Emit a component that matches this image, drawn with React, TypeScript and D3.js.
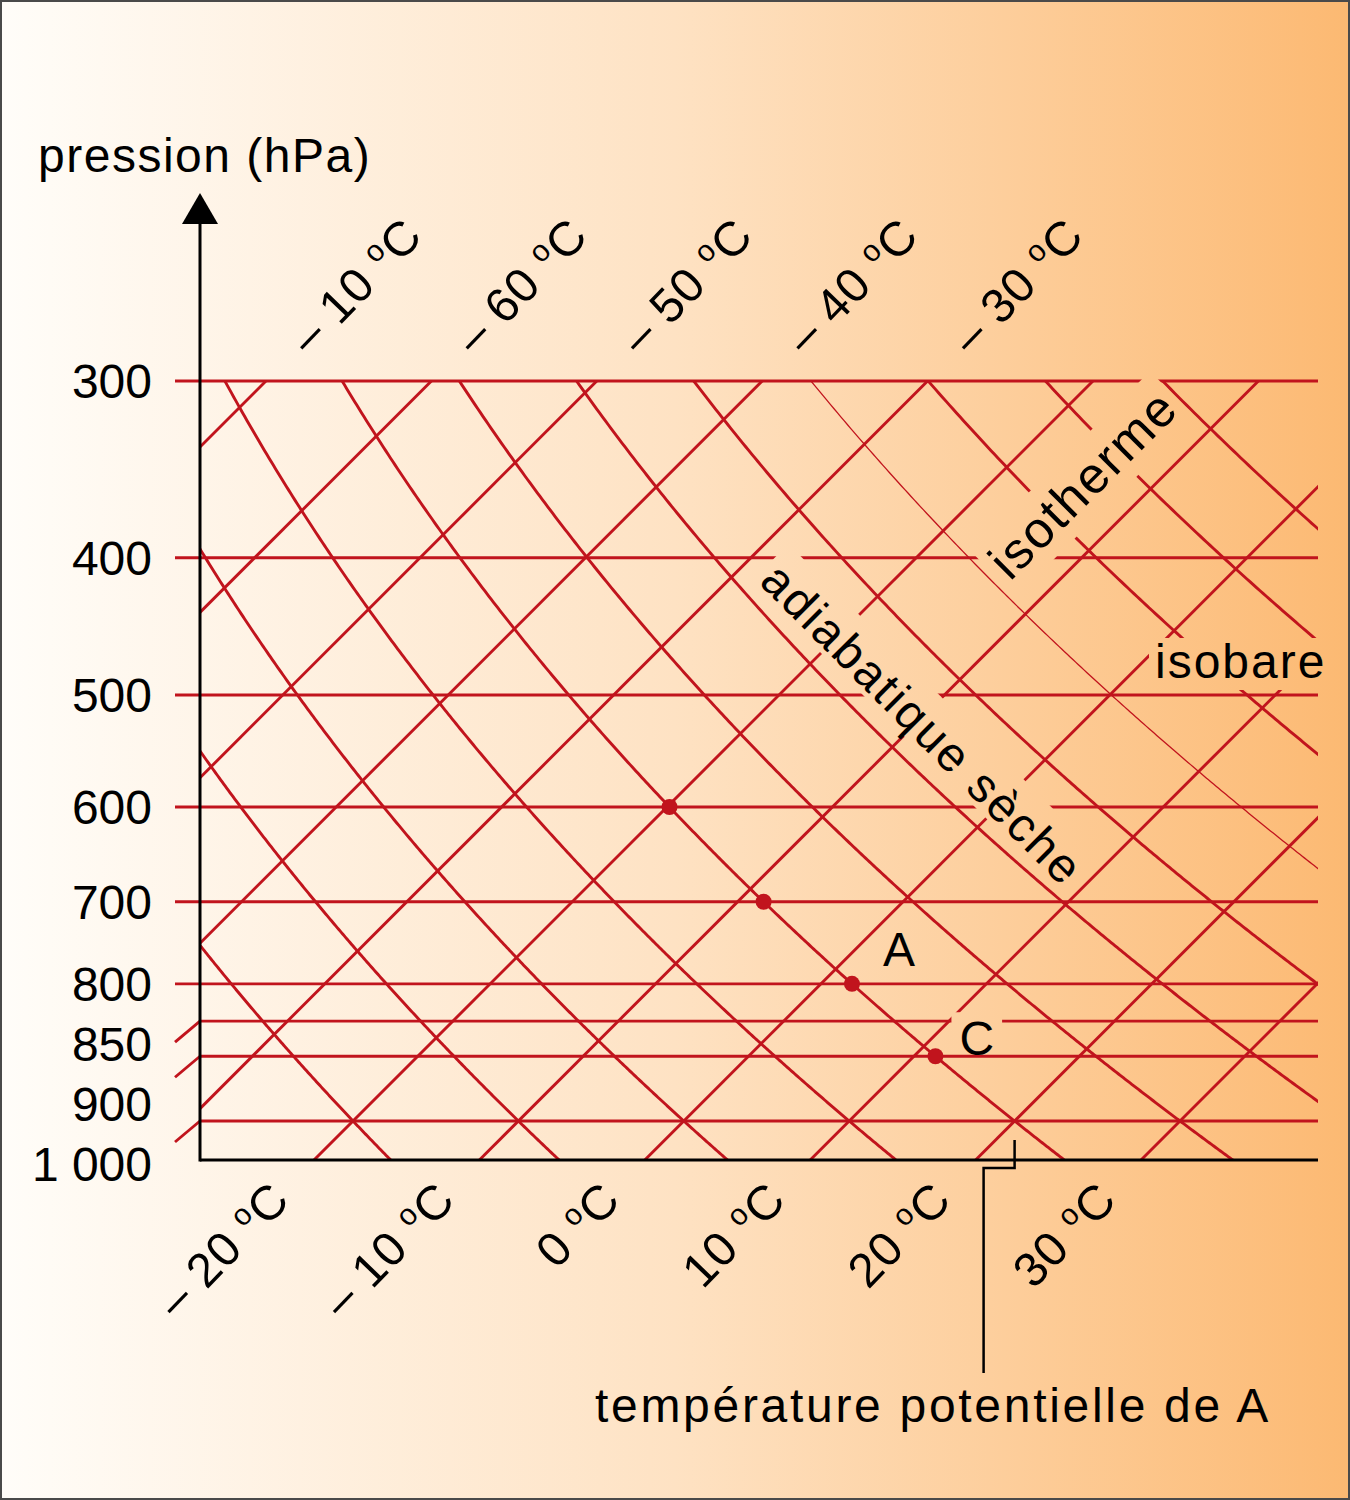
import React, { useEffect, useRef } from 'react';
import * as d3 from 'd3';

// ---------- data ----------
const isobarPressures = [300, 400, 500, 600, 700, 800, 850, 900, 1000];
const isobarLabels = ['300', '400', '500', '600', '700', '800', '850', '900', '1 000'];
const isothermTemps = [-70, -60, -50, -40, -30, -20, -10, 0, 10, 20, 30];
const bottomLabelTemps = [-20, -10, 0, 10, 20, 30];
const bottomLabelTexts = ['– 20', '– 10', '0', '10', '20', '30'];
const topLabelTemps = [-70, -60, -50, -40, -30];
const topLabelTexts = ['– 10', '– 60', '– 50', '– 40', '– 30'];
const adiabatThetas = [-20, -10, 0, 10, 20, 30, 40, 50, 60, 70, 80, 90];
const thinAdiabatThetas = [60];
const parcelTheta = 20;
const parcelPressures = [600, 700, 800, 900];
const pointNames = ['A', 'C'];
const pointNamePressures = [800, 900];
const yTitle = 'pression (hPa)';
const potentialLabel = 'température potentielle de A';
const isothermWord = 'isotherme';
const adiabatWord = 'adiabatique sèche';
const isobarWord = 'isobare';

export default function App() {
  const ref = useRef<SVGSVGElement>(null);

  useEffect(() => {
    const W = 1350, H = 1500;
    const L = 200, R = 1318, T = 381, B = 1160;
    const RED = '#c1141d';
    const FONT = '"Liberation Sans", Arial, Helvetica, sans-serif';

    const svg = d3.select(ref.current as SVGSVGElement);
    svg.selectAll('*').remove();
    const defs = svg.append('defs');

    const grad = defs.append('linearGradient').attr('id', 'bg')
      .attr('x1', 0).attr('x2', 1).attr('y1', 0).attr('y2', 0);
    grad.append('stop').attr('offset', '0%').attr('stop-color', '#fffdf9');
    grad.append('stop').attr('offset', '50%').attr('stop-color', '#fee2c3');
    grad.append('stop').attr('offset', '100%').attr('stop-color', '#fcb972');
    svg.append('rect').attr('width', W).attr('height', H).attr('fill', 'url(#bg)');

    defs.append('clipPath').attr('id', 'plotclip').append('rect')
      .attr('x', L).attr('y', T).attr('width', R - L).attr('height', B - T);

    const mask = defs.append('mask').attr('id', 'knock')
      .attr('maskUnits', 'userSpaceOnUse').attr('x', 0).attr('y', 0)
      .attr('width', W).attr('height', H);
    mask.append('rect').attr('width', W).attr('height', H).attr('fill', 'white');

    // scales
    const y = d3.scaleLog().domain([300, 1000]).range([381, 1121]);
    const pBottom = y.invert(B);
    const xT = d3.scaleLinear().domain([-20, 30]).range([353, 1180]);
    const isoX = (t: number, yy: number) => xT(t) + y(1000) - yy;
    const adT = (th: number, p: number) => (th + 273.15) * Math.pow(p / 1000, 0.286) - 273.15;
    const adX = (th: number, p: number) => isoX(adT(th, p), y(p));

    const grid = svg.append('g').attr('mask', 'url(#knock)');
    const SW = 2.9;

    // isobars
    const labelY: number[] = [];
    isobarPressures.forEach((p, i) => {
      const yy = y(p);
      labelY.push(i === 0 ? yy : Math.max(yy, labelY[i - 1] + 60));
    });
    isobarPressures.forEach((p, i) => {
      const yy = y(p);
      const displaced = labelY[i] - yy > 2;
      grid.append('line')
        .attr('x1', displaced ? L : 175).attr('x2', R)
        .attr('y1', yy).attr('y2', yy)
        .attr('stroke', RED).attr('stroke-width', SW);
      if (displaced) {
        grid.append('line')
          .attr('x1', L).attr('y1', yy).attr('x2', 175).attr('y2', yy + 21)
          .attr('stroke', RED).attr('stroke-width', SW);
      }
    });

    const inner = grid.append('g').attr('clip-path', 'url(#plotclip)');
    // isotherms
    isothermTemps.forEach((t) => {
      inner.append('line')
        .attr('x1', isoX(t, B)).attr('y1', B)
        .attr('x2', isoX(t, T)).attr('y2', T)
        .attr('stroke', RED).attr('stroke-width', SW);
    });
    // dry adiabats
    const line = d3.line<[number, number]>();
    adiabatThetas.forEach((th) => {
      const ps = d3.range(290, pBottom + 4, 2);
      const pts = ps.map((p) => [adX(th, p), y(p)] as [number, number]);
      inner.append('path')
        .attr('d', line(pts) as string)
        .attr('fill', 'none').attr('stroke', RED)
        .attr('stroke-width', thinAdiabatThetas.includes(th) ? 1.3 : SW);
    });

    // axes
    svg.append('line').attr('x1', L).attr('x2', L).attr('y1', 220).attr('y2', B + 1.5)
      .attr('stroke', '#000').attr('stroke-width', 3);
    svg.append('line').attr('x1', L).attr('x2', R).attr('y1', B).attr('y2', B)
      .attr('stroke', '#000').attr('stroke-width', 3);
    svg.append('path').attr('d', 'M200,193 L182,224 L218,224 Z').attr('fill', '#000');

    // title & isobar labels
    svg.append('text').attr('x', 38).attr('y', 172).attr('font-family', FONT)
      .attr('font-size', 48).attr('letter-spacing', 1.5).attr('fill', '#000').text(yTitle);
    isobarLabels.forEach((lab, i) => {
      svg.append('text').attr('x', 152).attr('y', labelY[i] + 17)
        .attr('text-anchor', 'end').attr('font-family', FONT).attr('font-size', 48)
        .attr('fill', '#000').text(lab);
    });

    // temperature labels
    const degLabel = (x: number, yy: number, txt: string, anchor: string) => {
      const g = svg.append('g').attr('transform', `translate(${x},${yy}) rotate(-46)`);
      const t = g.append('text').attr('y', 14).attr('text-anchor', anchor)
        .attr('font-family', FONT).attr('font-size', 48).attr('letter-spacing', 1).attr('fill', '#000');
      t.append('tspan').text(txt + ' ');
      t.append('tspan').attr('font-size', 30).attr('dy', -17).text('o');
      t.append('tspan').attr('dy', 17).text('C');
    };
    topLabelTemps.forEach((t, i) => degLabel(isoX(t, 347), 347, topLabelTexts[i], 'start'));
    bottomLabelTemps.forEach((t, i) => degLabel(isoX(t, 1192), 1192, bottomLabelTexts[i], 'end'));

    // annotated words with knockouts
    const word = (x: number, yy: number, rot: number, txt: string, size: number, ls: number,
      pad: [number, number, number] | null) => {
      const tr = `translate(${x},${yy}) rotate(${rot})`;
      const g = svg.append('g').attr('transform', tr);
      const t = g.append('text').attr('font-family', FONT).attr('font-size', size)
        .attr('letter-spacing', ls).attr('fill', '#000').text(txt);
      if (pad) {
        const bb = (t.node() as SVGTextElement).getBBox();
        mask.append('rect').attr('transform', tr)
          .attr('x', bb.x - pad[0]).attr('y', bb.y - pad[1])
          .attr('width', bb.width + 2 * pad[0]).attr('height', bb.height + pad[1] + pad[2])
          .attr('fill', 'black');
      }
    };
    word(1010, 582, -45, isothermWord, 51, 2, [6, 4, 4]);
    word(758, 583, 45, adiabatWord, 48, 2.5, [6, 6, -5]);
    word(1155, 678, 0, isobarWord, 48, 2, [6, -3, 2]);

    // parcel dots & names
    parcelPressures.forEach((p) => {
      svg.append('circle').attr('cx', adX(parcelTheta, p)).attr('cy', y(p)).attr('r', 8).attr('fill', RED);
    });
    const nameOffsets: [number, number][] = [[31, -18], [24, -1]];
    pointNames.forEach((n, i) => {
      const p = pointNamePressures[i];
      const x0 = adX(parcelTheta, p) + nameOffsets[i][0];
      const y0 = y(p) + nameOffsets[i][1];
      word(x0, y0, 0, n, 48, 0, n === 'C' ? [8, 0, -14] : null);
    });

    // potential temperature bracket
    const xb = adX(parcelTheta, 1000);
    svg.append('path')
      .attr('d', `M${xb},${y(1000) + 19} L${xb},1168 L${xb - 31},1168 L${xb - 31},1373`)
      .attr('fill', 'none').attr('stroke', '#000').attr('stroke-width', 2.5);
    svg.append('text').attr('x', 595).attr('y', 1422).attr('font-family', FONT)
      .attr('font-size', 48).attr('letter-spacing', 2.7).attr('fill', '#000').text(potentialLabel);

    // frame
    svg.append('rect').attr('x', 1).attr('y', 1).attr('width', W - 2).attr('height', H - 2)
      .attr('fill', 'none').attr('stroke', '#4a4a4a').attr('stroke-width', 2);
  }, []);

  return (
    <svg ref={ref} width={1350} height={1500}
      style={{ position: 'absolute', left: 0, top: 0, display: 'block' }} />
  );
}
